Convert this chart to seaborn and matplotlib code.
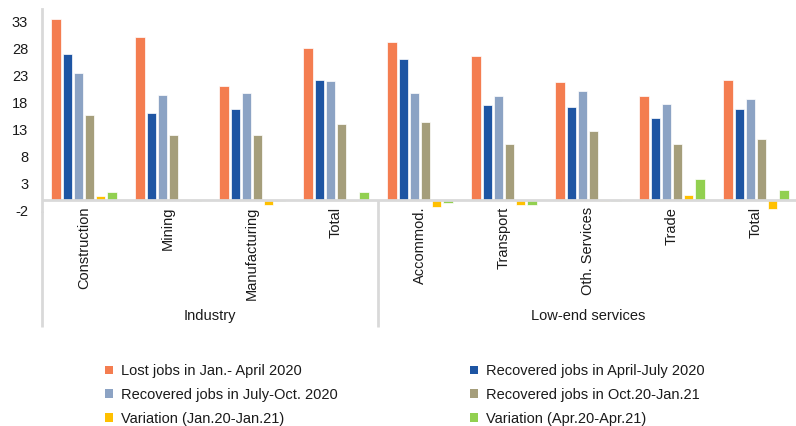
import matplotlib
matplotlib.use("Agg")
import matplotlib.pyplot as plt
from matplotlib.patches import Patch
import pandas as pd
import seaborn as sns

# Sector categories and the group each belongs to
categories = ["Construction", "Mining", "Manufacturing", "Total",
              "Accommod.", "Transport", "Oth. Services", "Trade", "Total"]
groups = ["Industry", "Industry", "Industry", "Industry",
          "Low-end services", "Low-end services", "Low-end services",
          "Low-end services", "Low-end services"]

series_names = ["Lost jobs in Jan.- April 2020",
                "Recovered jobs in April-July 2020",
                "Recovered jobs in July-Oct. 2020",
                "Recovered jobs in Oct.20-Jan.21",
                "Variation (Jan.20-Jan.21)",
                "Variation (Apr.20-Apr.21)"]

lost_jan_apr = [33.4, 30.0, 21.0, 28.0, 29.2, 26.5, 21.8, 19.1, 22.2]
recovered_apr_jul = [26.9, 16.0, 16.7, 22.2, 26.1, 17.5, 17.1, 15.2, 16.7]
recovered_jul_oct = [23.4, 19.4, 19.8, 21.9, 19.8, 19.1, 20.2, 17.8, 18.7]
recovered_oct_jan = [15.6, 12.0, 12.0, 14.0, 14.3, 10.4, 12.8, 10.4, 11.2]
variation_jan = [0.7, 0.0, -0.9, -0.1, -1.3, -0.9, -0.15, 1.0, -1.7]
variation_apr = [1.5, -0.15, -0.15, 1.5, -0.5, -0.9, -0.15, 3.8, 1.8]

y_ticks = [-2, 3, 8, 13, 18, 23, 28, 33]

colors = ["#F47D50", "#1E55A3", "#8CA3C4", "#A59E7B", "#FFC000", "#92D050"]

all_series = [lost_jan_apr, recovered_apr_jul, recovered_jul_oct,
              recovered_oct_jan, variation_jan, variation_apr]

# Unique keys so that the two "Total" categories stay separate
keys = [f"{g}|{c}" for g, c in zip(groups, categories)]
rows = []
for name, vals in zip(series_names, all_series):
    for k, v in zip(keys, vals):
        rows.append({"key": k, "series": name, "value": v})
df = pd.DataFrame(rows)

sns.set_style("white")
plt.rcParams["font.family"] = ["Liberation Sans", "DejaVu Sans"]
plt.rcParams["axes.unicode_minus"] = False

FS = 10.5
TEXT = "#1a1a1a"

W, H = 796, 426
fig = plt.figure(figsize=(W / 100, H / 100), dpi=100)

# axes geometry in pixels
left_px, right_px = 42, 798
top_px, zero_px = 9, 200
px_per_unit = 5.42
ymin = -2
ymax = (zero_px - top_px) / px_per_unit
bottom_px = zero_px - ymin * px_per_unit
ax = fig.add_axes([left_px / W, 1 - bottom_px / H,
                   (right_px - left_px) / W, (bottom_px - top_px) / H])

sns.barplot(data=df, x="key", y="value", hue="series", order=keys,
            hue_order=series_names, palette=colors, saturation=1,
            width=0.8, gap=0.18, edgecolor="white", linewidth=0.5,
            legend=False, ax=ax)

ax.set_xlim(-0.5, len(keys) - 0.5)
ax.set_ylim(ymin, ymax)
ax.set_yticks(y_ticks)
ax.set_yticklabels([str(t) for t in y_ticks], fontsize=FS, color=TEXT)
ax.tick_params(axis="y", length=0, pad=10)
ax.set_xticks([])
ax.set_xlabel("")
ax.set_ylabel("")

for side in ["top", "right", "bottom"]:
    ax.spines[side].set_visible(False)
ax.spines["left"].set_color("#d9d9d9")
ax.spines["left"].set_linewidth(2)

line_kw = dict(color="#d9d9d9", lw=2, clip_on=False, solid_capstyle="butt")
ax.axhline(0, **line_kw)

# category axis area below zero line
depth = -(327 - zero_px) / px_per_unit
ax.plot([-0.5, -0.5], [ymin, depth], **line_kw)
ax.plot([3.5, 3.5], [0, depth], **line_kw)

for i, cat in enumerate(categories):
    ax.annotate(cat, xy=(i, 0), xytext=(0, -5), textcoords="offset points",
                rotation=90, ha="center", va="top", fontsize=FS,
                color=TEXT, annotation_clip=False)

group_y = -(316 - zero_px) / px_per_unit
ax.text(1.5, group_y, "Industry", ha="center", va="center",
        fontsize=FS, color=TEXT)
ax.text(6.0, group_y, "Low-end services", ha="center", va="center",
        fontsize=FS, color=TEXT)

handles = [Patch(facecolor=c, edgecolor="none") for c in colors]
leg_kw = dict(frameon=False, loc="upper left", fontsize=FS,
              handlelength=0.52, handleheight=0.52, handletextpad=0.6,
              labelspacing=0.68, borderpad=0, borderaxespad=0)
leg1 = fig.legend([handles[i] for i in (0, 2, 4)],
                  [series_names[i] for i in (0, 2, 4)],
                  bbox_to_anchor=(105 / W, 1 - 364 / H), **leg_kw)
leg2 = fig.legend([handles[i] for i in (1, 3, 5)],
                  [series_names[i] for i in (1, 3, 5)],
                  bbox_to_anchor=(470 / W, 1 - 364 / H), **leg_kw)
for leg in (leg1, leg2):
    for t in leg.get_texts():
        t.set_color(TEXT)

fig.savefig("out.png", dpi=100)
